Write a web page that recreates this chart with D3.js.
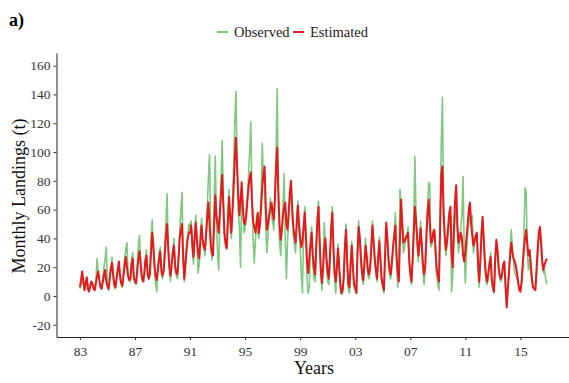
<!DOCTYPE html>
<html>
<head>
<meta charset="utf-8">
<script src="https://cdn.jsdelivr.net/npm/d3@7"></script>
<style>
  body { margin: 0; background: #fff; }
  svg { font-family: "Liberation Serif", "Times New Roman", serif; }
</style>
</head>
<body>
<div id="chart"></div>
<script>
const startYear = 1983;

// monthly landings (t), Jan..Dec, one row per year 1983-2016
const observed = [
  5, 8, 14, 9, 5, 8, 12, 6, 4, 8, 10, 9,
  6, 5, 12, 26, 15, 10, 6, 5, 12, 20, 26, 34,
  6, 4, 14, 20, 27, 12, 6, 5, 14, 20, 22, 12,
  8, 6, 16, 26, 32, 37, 14, 12, 10, 24, 30, 12,
  10, 8, 22, 36, 42, 20, 12, 14, 10, 26, 32, 14,
  12, 20, 40, 53, 30, 18, 8, 3, 20, 30, 34, 16,
  12, 20, 36, 52, 71, 30, 18, 10, 24, 32, 40, 18,
  14, 12, 28, 44, 60, 72, 24, 10, 24, 36, 42, 50,
  48, 52, 32, 22, 42, 56, 36, 16, 22, 40, 54, 36,
  34, 28, 44, 62, 82, 98, 46, 25, 32, 64, 97, 52,
  30, 18, 52, 80, 108, 72, 40, 36, 33, 56, 74, 50,
  40, 62, 90, 120, 142, 96, 60, 48, 20, 70, 66, 44,
  46, 62, 70, 84, 100, 121, 64, 40, 23, 38, 56, 44,
  40, 54, 72, 106, 80, 84, 48, 30, 42, 58, 68, 56,
  52, 46, 70, 100, 144, 64, 38, 28, 44, 62, 85, 40,
  12, 38, 56, 68, 76, 56, 42, 36, 30, 54, 66, 44,
  36, 14, 2, 46, 62, 38, 12, 2, 6, 40, 48, 22,
  12, 10, 30, 54, 66, 36, 14, 4, 20, 51, 36, 20,
  10, 8, 26, 48, 62, 32, 12, 2, 18, 36, 22, 6,
  1, 2, 12, 36, 50, 20, 4, 2, 26, 38, 18, 6,
  4, 2, 34, 52, 40, 22, 12, 8, 24, 40, 26, 14,
  12, 18, 32, 52, 36, 24, 16, 10, 28, 41, 24, 10,
  6, 2, 30, 48, 42, 22, 14, 12, 22, 36, 44, 58,
  26, 6, 20, 74, 60, 46, 30, 34, 42, 40, 48, 22,
  14, 8, 26, 50, 97, 56, 36, 24, 38, 52, 34, 18,
  8, 20, 44, 60, 79, 77, 34, 36, 46, 44, 28, 14,
  8, 4, 60, 106, 138, 62, 40, 28, 36, 44, 50, 56,
  3, 14, 40, 55, 60, 44, 30, 36, 48, 56, 83, 30,
  9, 30, 44, 50, 58, 52, 56, 30, 36, 40, 42, 20,
  6, 20, 46, 52, 38, 20, 10, 8, 14, 24, 30, 10,
  4, 2, 22, 36, 30, 18, 12, 10, 14, 20, 22, 8,
  4, 6, 18, 32, 46, 34, 24, 16, 14, 12, 8, 6,
  4, 8, 18, 40, 75, 72, 30, 18, 26, 16, 10, 6,
  6, 4, 14, 28, 40, 44, 34, 22, 16, 18, 12, 8
];

const estimated = [
  6, 11, 17, 10, 4, 9, 13, 5, 3, 7, 10, 8,
  5, 4, 9, 14, 17, 11, 6, 5, 10, 15, 18, 10,
  7, 5, 12, 19, 23, 15, 8, 6, 12, 18, 24, 14,
  9, 7, 14, 22, 27, 20, 14, 11, 12, 22, 26, 13,
  10, 9, 18, 26, 31, 22, 13, 10, 15, 24, 28, 16,
  12, 15, 30, 44, 36, 22, 14, 11, 18, 26, 31, 18,
  14, 17, 28, 42, 50, 34, 20, 14, 22, 30, 35, 21,
  16, 15, 26, 40, 46, 50, 28, 12, 22, 32, 40, 44,
  44, 49, 36, 27, 40, 51, 40, 30, 26, 38, 49, 40,
  34, 32, 42, 55, 65, 50, 36, 30, 28, 50, 70, 56,
  50, 44, 58, 72, 84, 62, 44, 36, 33, 52, 69, 55,
  44, 58, 75, 95, 110, 90, 70, 56, 66, 79, 62, 51,
  50, 56, 66, 76, 82, 86, 66, 52, 48, 44, 50, 58,
  44, 50, 62, 76, 85, 90, 62, 46, 50, 56, 60, 65,
  58, 53, 68, 90, 103, 72, 50, 39, 46, 56, 62, 65,
  50, 46, 58, 72, 80, 62, 48, 42, 37, 50, 63, 50,
  40, 34, 38, 48, 58, 42, 24, 16, 26, 36, 44, 28,
  20, 15, 34, 52, 62, 38, 18, 9, 20, 34, 40, 26,
  16, 12, 28, 46, 58, 34, 16, 10, 20, 33, 20, 8,
  2, 4, 14, 34, 46, 24, 8, 6, 22, 35, 20, 8,
  6, 2, 30, 48, 40, 26, 16, 11, 22, 35, 28, 18,
  15, 20, 34, 49, 38, 26, 18, 12, 26, 38, 26, 12,
  8, 4, 28, 51, 40, 26, 18, 15, 24, 34, 42, 49,
  28, 16, 10, 40, 67, 50, 37, 38, 40, 42, 44, 26,
  16, 10, 24, 44, 62, 52, 40, 28, 36, 47, 36, 22,
  15, 20, 40, 58, 67, 50, 37, 38, 44, 46, 32, 18,
  14, 10, 48, 84, 90, 58, 42, 32, 38, 48, 58, 62,
  30, 20, 46, 66, 77, 50, 37, 40, 44, 40, 28, 24,
  30, 40, 50, 60, 65, 50, 42, 35, 38, 42, 44, 24,
  10, 24, 42, 55, 40, 24, 14, 10, 16, 22, 27, 12,
  6, 3, 26, 39, 32, 20, 14, 12, 16, 22, 24, 6,
  -8, 4, 16, 28, 37, 30, 26, 24, 21, 16, 10, 4,
  3, 10, 22, 32, 40, 46, 36, 28, 32, 22, 12, 6,
  5, 4, 18, 32, 44, 48, 38, 24, 18, 22, 24, 26
];

const xTicks = [1983, 1987, 1991, 1995, 1999, 2003, 2007, 2011, 2015];
const yTicks = [-20, 0, 20, 40, 60, 80, 100, 120, 140, 160];
const seriesNames = ['Observed', 'Estimated'];
const seriesColors = ['#7fc97f', '#e41a1c'];

const width = 569, height = 383;
const plot = { left: 56.5, right: 570, top: 53, bottom: 337 };
const serif = '"Liberation Serif", "Times New Roman", serif';

const svg = d3.select('#chart')
  .append('svg')
  .attr('width', width)
  .attr('height', height);

const x = d3.scaleLinear().domain([1981.3, 2018.6]).range([plot.left, plot.right]);
const y = d3.scaleLinear().domain([-28.5, 168.8]).range([plot.bottom, plot.top]);

const toPoints = (arr) => arr.map((v, i) => ({ t: startYear + i / 12, v }));

const line = d3.line().x((d) => x(d.t)).y((d) => y(d.v));

const series = [observed, estimated];
svg.append('g')
  .selectAll('path')
  .data(series)
  .join('path')
  .attr('d', (d) => line(toPoints(d)))
  .attr('fill', 'none')
  .attr('stroke', (d, i) => seriesColors[i])
  .attr('stroke-width', (d, i) => (i === 0 ? 1.6 : 2))
  .attr('stroke-linejoin', 'round');

// axes
const xAxis = svg.append('g')
  .attr('transform', `translate(0, ${plot.bottom})`)
  .call(d3.axisBottom(x)
    .tickValues(xTicks)
    .tickSize(3)
    .tickSizeOuter(0)
    .tickPadding(6)
    .tickFormat((d) => String(d % 100).padStart(2, '0')));

const yAxis = svg.append('g')
  .attr('transform', `translate(${plot.left}, 0)`)
  .call(d3.axisLeft(y)
    .tickValues(yTicks)
    .tickSize(3)
    .tickSizeOuter(0)
    .tickPadding(3)
    .tickFormat((d) => String(d)));

[xAxis, yAxis].forEach((g) => {
  g.attr('font-family', serif).attr('font-size', 13.5);
  g.select('.domain').attr('stroke', '#222').attr('stroke-width', 1);
  g.selectAll('.tick line').attr('stroke', '#333');
  g.selectAll('.tick text')
    .attr('fill', '#333')
    .style('font-family', serif)
    .style('font-size', '13.5px');
});

// axis titles
svg.append('text')
  .attr('x', 314)
  .attr('y', 374)
  .attr('text-anchor', 'middle')
  .attr('font-size', 18)
  .attr('fill', '#111')
  .text('Years');

svg.append('text')
  .attr('transform', 'translate(25, 196) rotate(-90)')
  .attr('text-anchor', 'middle')
  .attr('font-size', 18)
  .attr('fill', '#111')
  .text('Monthly Landings (t)');

// panel tag
svg.append('text')
  .attr('x', 9)
  .attr('y', 26)
  .attr('font-size', 18)
  .attr('font-weight', 'bold')
  .attr('fill', '#000')
  .text('a)');

// legend
const legend = svg.append('g').attr('transform', 'translate(217, 32)');
const legendX = [0, 76];
seriesNames.forEach((name, i) => {
  const g = legend.append('g').attr('transform', `translate(${legendX[i]}, 0)`);
  g.append('line')
    .attr('x1', 0).attr('x2', 11)
    .attr('y1', 0).attr('y2', 0)
    .attr('stroke', seriesColors[i])
    .attr('stroke-width', 2);
  g.append('text')
    .attr('x', 17)
    .attr('y', 5)
    .attr('font-size', 14.5)
    .attr('fill', '#222')
    .text(name);
});
</script>
</body>
</html>
